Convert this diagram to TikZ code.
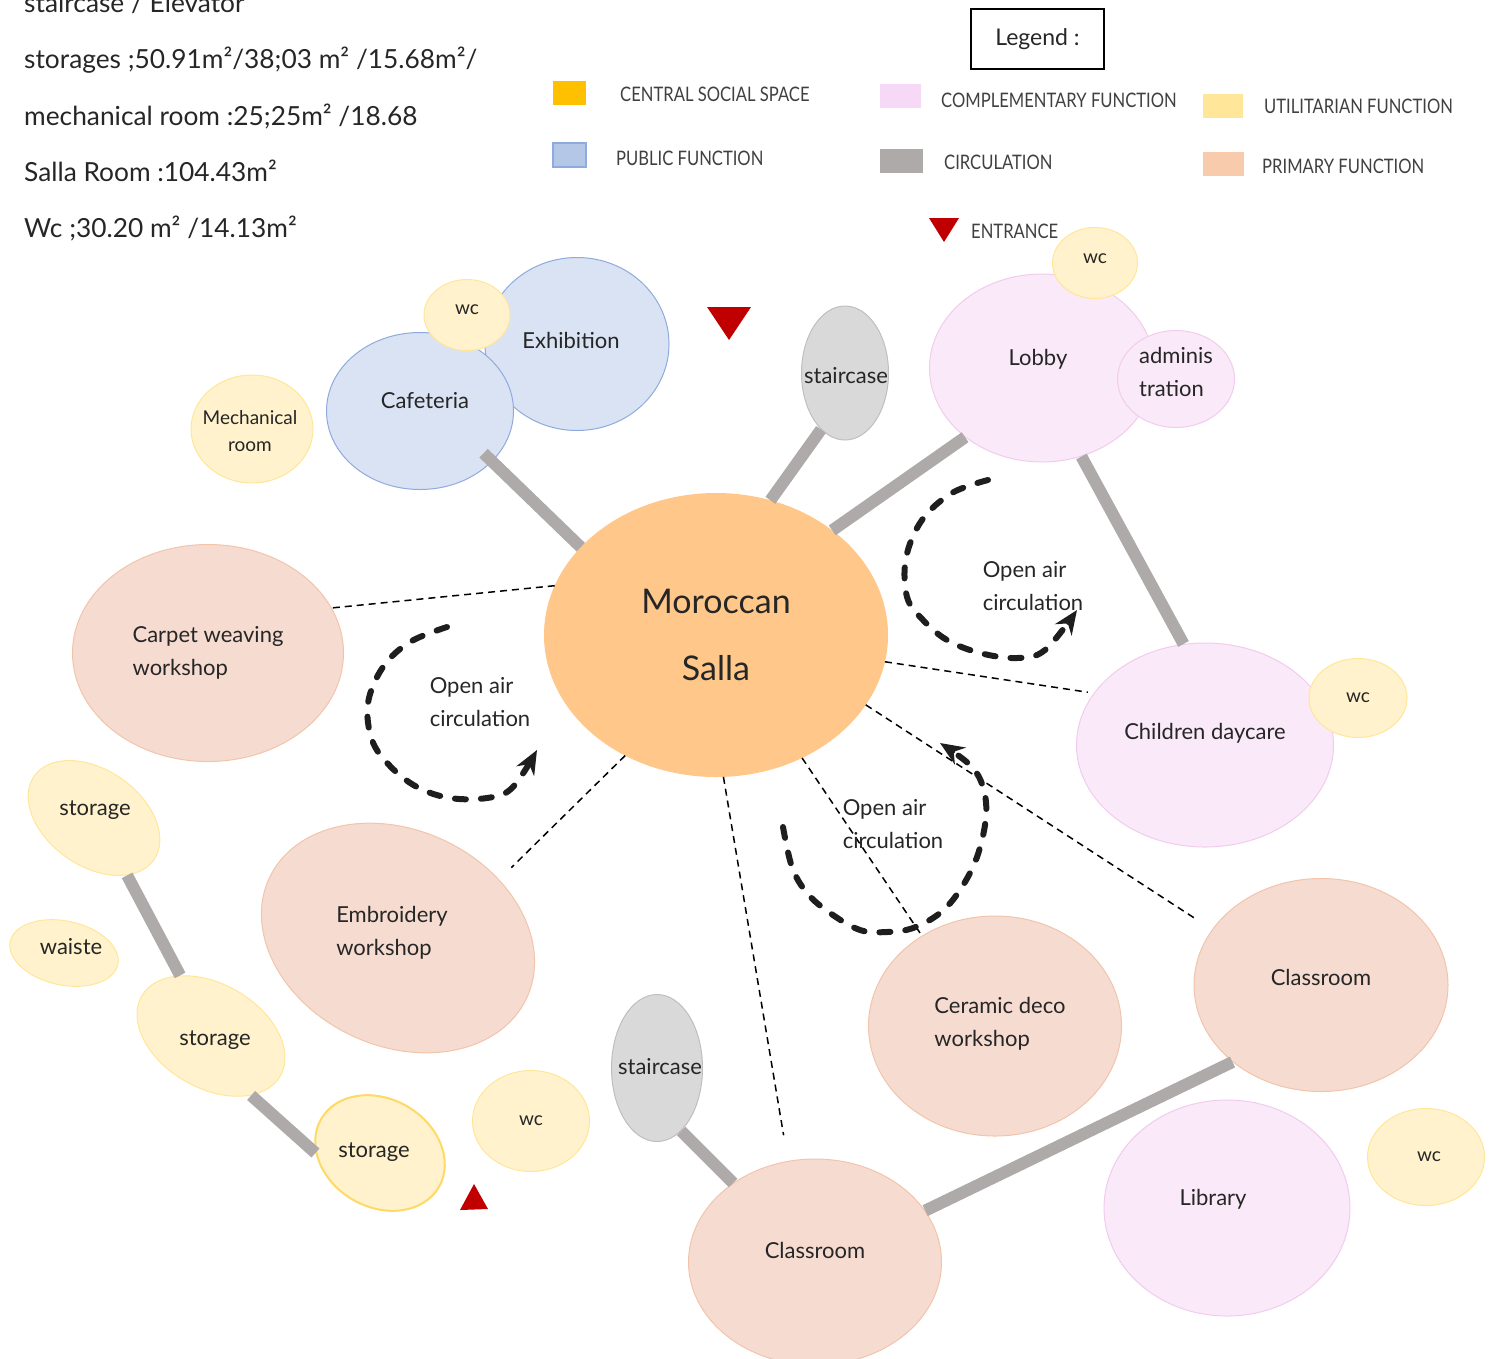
\documentclass[tikz,border=0pt]{standalone}
\usepackage{fontspec}
\setmainfont{Lato}
\newfontfamily\condfont[FakeStretch=0.83]{Lato}
\usetikzlibrary{shapes.geometric,arrows.meta}
\definecolor{txt}{HTML}{262626}
\definecolor{pubfill}{HTML}{DAE3F3}
\definecolor{publine}{HTML}{8FAADC}
\definecolor{utilfill}{HTML}{FFF2CC}
\definecolor{utilline}{HTML}{FFE699}
\definecolor{utilstrong}{HTML}{FFD966}
\definecolor{compfill}{HTML}{FAE9F8}
\definecolor{compline}{HTML}{F2CCEE}
\definecolor{primfill}{HTML}{F6DCD0}
\definecolor{primline}{HTML}{F2C4AA}
\definecolor{sallafill}{HTML}{FFC88A}
\definecolor{circfill}{HTML}{D9D9D9}
\definecolor{circline}{HTML}{BFBFBF}
\definecolor{bargray}{HTML}{AEAAAA}
\definecolor{entred}{HTML}{C00000}
\definecolor{swcentral}{HTML}{FFC000}
\definecolor{swcomp}{HTML}{F5D9F7}
\definecolor{swutil}{HTML}{FFE699}
\definecolor{swpub}{HTML}{B4C7E7}
\definecolor{swprim}{HTML}{F8CBAD}
\definecolor{legtxt}{HTML}{404040}
\definecolor{flowblack}{HTML}{1E1E1E}
\begin{document}
\begin{tikzpicture}[x=1pt,y=-1pt,
  room/.style={ellipse, draw, line width=1pt, inner sep=0pt, align=center, text=txt, font=\fontsize{22}{33}\selectfont},
  sz/.style 2 args={minimum width=#1pt, minimum height=#2pt},
  pub/.style={room, fill=pubfill, draw=publine},
  util/.style={room, fill=utilfill, draw=utilline},
  comp/.style={room, fill=compfill, draw=compline},
  prim/.style={room, fill=primfill, draw=primline},
  circ/.style={room, fill=circfill, draw=circline},
  hub/.style={room, fill=sallafill, draw=sallafill},
  small/.style={font=\fontsize{19}{27}\selectfont},
  lbl/.style={inner sep=0pt, text=txt, font=\fontsize{22}{33}\selectfont, align=left},
  bar/.style={draw=bargray, line width=12pt},
  link/.style={draw=black, line width=1.5pt, dash pattern=on 7pt off 5pt},
  flow/.style={draw=flowblack, line width=6pt, line cap=round, dash pattern=on 11pt off 15pt, -{Stealth[length=24pt,width=20pt]}},
  note/.style={anchor=base west, inner sep=0pt, text=txt, font=\fontsize{26.3}{30}\selectfont},
  legtext/.style={anchor=west, inner sep=0pt, text=legtxt, font=\condfont\fontsize{20}{24}\selectfont},
  swatch/.style={draw=none, inner sep=0pt, minimum width=#1pt, minimum height=24pt}
]
\useasboundingbox (0,0) rectangle (1495,1358);

% ---- notes top-left
\node[note] (n0) at (24,12) {staircase / Elevator};
\node[note] (n1) at (24,68) {storages ;50.91m²/38;03 m² /15.68m²/};
\node[note] (n2) at (24,125) {mechanical room :25;25m² /18.68};
\node[note] (n3) at (24,181) {Salla Room :104.43m²};
\node[note] (n4) at (24,237) {Wc ;30.20 m² /14.13m²};

% ---- legend
\node[draw=black, line width=2pt, minimum width=133pt, minimum height=60pt, inner sep=0pt, text=txt, font=\fontsize{23}{28}\selectfont] (legend) at (1037.5,39) {Legend :};
\node[swatch=33, fill=swcentral] (sw1) at (569.5,93) {};
\node[legtext] (lt1) at (620,94) {CENTRAL SOCIAL SPACE};
\node[swatch=41, fill=swcomp] (sw2) at (900.5,96) {};
\node[legtext] (lt2) at (941,100) {COMPLEMENTARY FUNCTION};
\node[swatch=40, fill=swutil] (sw3) at (1223,105.5) {};
\node[legtext] (lt3) at (1264,106) {UTILITARIAN FUNCTION};
\node[swatch=33, fill=swpub, draw=publine, line width=1.5pt] (sw4) at (569.5,155) {};
\node[legtext] (lt4) at (616,158) {PUBLIC FUNCTION};
\node[swatch=43, fill=bargray] (sw5) at (901.5,161) {};
\node[legtext] (lt5) at (944,162) {CIRCULATION};
\node[swatch=41, fill=swprim] (sw6) at (1223.5,164) {};
\node[legtext] (lt6) at (1262,166) {PRIMARY FUNCTION};
\fill[entred] (929,218) -- (959,218) -- (944,242) -- cycle;
\node[legtext] (lt7) at (971,231) {ENTRANCE};

% ---- entrances
\fill[entred] (707,307) -- (751,307) -- (729,340) -- cycle;
\fill[entred] (460,1210) -- (488,1209) -- (474,1184) -- cycle;

% ---- rooms
\node[pub, sz={184}{173}, text depth=8pt] (exh) at (577,344) {Exhibition\hspace*{12pt}};
\node[pub, sz={187}{157}, text depth=22pt] (caf) at (420,411) {\hspace*{10pt}Cafeteria};
\node[util, sz={86}{71}, small, text depth=10pt] (wc1) at (467,315) {wc};
\node[util, sz={122}{108}] (mech) at (252,429) {};
\node[lbl, small, align=center] (mecht) at (250,431) {Mechanical\\room};

\node[circ, sz={87}{134}] (st) at (845,373) {};
\node[lbl] (stt) at (846,376) {staircase};

\node[comp, sz={225}{188}, text depth=21pt] (lobby) at (1042,368) {Lobby\hspace*{8pt}};
\node[util, sz={85}{71}, small, text depth=8pt] (wc2) at (1095,263) {wc};
\node[comp, sz={117}{97}, align=left, text depth=14pt] (adm) at (1176,379) {adminis\\tration};

\node[hub, sz={343}{283}, font=\fontsize{34}{67}\selectfont] (salla) at (716,635) {Moroccan\\Salla};

\node[prim, sz={271}{217}, align=left, text depth=5pt] (carpet) at (208,653) {Carpet weaving\\workshop};
\node[comp, sz={257}{204}, text depth=27pt] (day) at (1205,745) {Children daycare};
\node[util, sz={98}{79}, small] (wc3) at (1358,698) {wc};

\node[prim, sz={284}{216}, rotate=-25] (emb) at (398,938) {};
\node[lbl] (embt) at (392,933) {Embroidery\\workshop};

\node[util, sz={146}{96}, rotate=-35] (sto1) at (94,818) {};
\node[lbl] (sto1t) at (95,810) {storage};
\node[util, sz={110}{64}, rotate=-12] (wst) at (64,953) {};
\node[lbl] (wstt) at (71,947) {waiste};
\node[util, sz={160}{104}, rotate=-30] (sto2) at (211,1036) {};
\node[lbl] (sto2t) at (215,1040) {storage};
\node[util, sz={136}{108}, rotate=-30, line width=2pt, draw=utilstrong] (sto3) at (380,1153) {};
\node[lbl] (sto3t) at (374,1152) {storage};
\node[util, sz={117}{101}, small] (wc4) at (531,1121) {wc};

\node[circ, sz={91}{147}] (st2) at (657,1068) {};
\node[lbl] (st2t) at (660,1067) {staircase};

\node[prim, sz={253}{220}, align=left, text depth=8pt] (cer) at (995,1026) {\hspace*{10pt}Ceramic deco\\\hspace*{10pt}workshop};
\node[prim, sz={254}{213}, text depth=16pt] (clr) at (1321,985) {Classroom};
\node[comp, sz={246}{216}, text depth=21pt] (lib) at (1227,1208) {Library\hspace*{28pt}};
\node[util, sz={117}{97}, small] (wc5) at (1426,1157) {\hspace*{6pt}wc};
\node[prim, sz={253}{206}, text depth=24pt] (clb) at (815,1262) {Classroom};

% ---- circulation bars
\draw[bar, shorten <=-12pt] (caf.-35) -- (salla.147);
\draw[bar] (st.-113) -- (salla.68);
\draw[bar] (lobby.-138) -- (salla.42);
\draw[bar] (lobby.-66) -- (day.102);
\draw[bar] (sto1.-25) -- (sto2.147);
\draw[bar] (sto2.-26) -- (sto3.-150);
\draw[bar] (st2.-69) -- (clb.136);
\draw[bar] (clb.25) -- (clr.-139);

% ---- dashed relations
\draw[link] (salla.163) -- (carpet.20);
\draw[link, shorten >=6pt] (salla.-9) -- (day.155);
\draw[link, shorten >=17pt] (salla.-127) -- (emb.55);
\draw[link, shorten >=26pt] (salla.-87) -- (clb.105);
\draw[link] (salla.-55) -- (cer.129);
\draw[link, shorten >=20pt] (salla.-25) -- (clr.153);

% ---- open air circulation loops
\draw[flow] plot[smooth, tension=0.6] coordinates {(988,480) (952,493) (922,520) (906,558) (907,597) (923,620) (947,640) (980,653) (1017,658) (1045,650) (1077,610)};
\node[lbl] (oa1) at (1033,586) {Open air\\circulation};

\draw[flow] plot[smooth, tension=0.6] coordinates {(447,627) (410,642) (383,667) (368,703) (372,740) (390,766) (417,787) (450,798) (487,798) (512,788) (537,750)};
\node[lbl] (oa2) at (480,702) {Open air\\circulation};

\draw[flow] plot[smooth, tension=0.6] coordinates {(783,827) (792,867) (807,893) (830,913) (860,930) (887,932) (913,928) (940,913) (960,890) (977,857) (986,817) (983,787) (970,765) (940,743)};
\node[lbl] (oa3) at (893,824) {Open air\\circulation};
\end{tikzpicture}
\end{document}
